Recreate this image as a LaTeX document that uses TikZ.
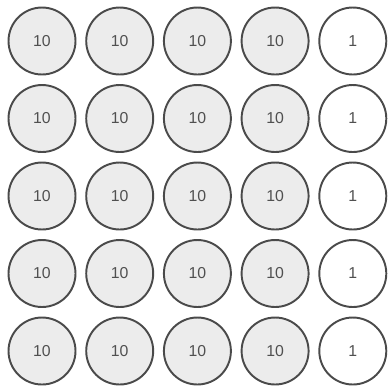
\documentclass[tikz,border=0pt]{standalone}
\usepackage{fontspec}
\setmainfont{Liberation Sans}
\definecolor{ringgray}{HTML}{4A4A4A}
\definecolor{cellfill}{HTML}{ECECEC}
\definecolor{digitgray}{HTML}{505050}
\begin{document}
\begin{tikzpicture}[x=0.02cm, y=-0.02cm, font=\small,
  cell/.style={circle, draw=ringgray, line width=1.1pt, minimum size=1.34cm,
    inner sep=0pt, text=digitgray},
  tens/.style={cell, fill=cellfill},
  ones/.style={cell, fill=white}]
  \useasboundingbox (0,0) rectangle (389,387);
  \foreach \r in {1,...,5} {
    \foreach \c in {1,...,4} {
      \node[tens] (c\r\c) at ({42+77.7*(\c-1)}, {41+77.5*(\r-1)}) {10};
    }
    \node[ones] (c\r5) at ({42+77.7*4}, {41+77.5*(\r-1)}) {1};
  }
\end{tikzpicture}
\end{document}
